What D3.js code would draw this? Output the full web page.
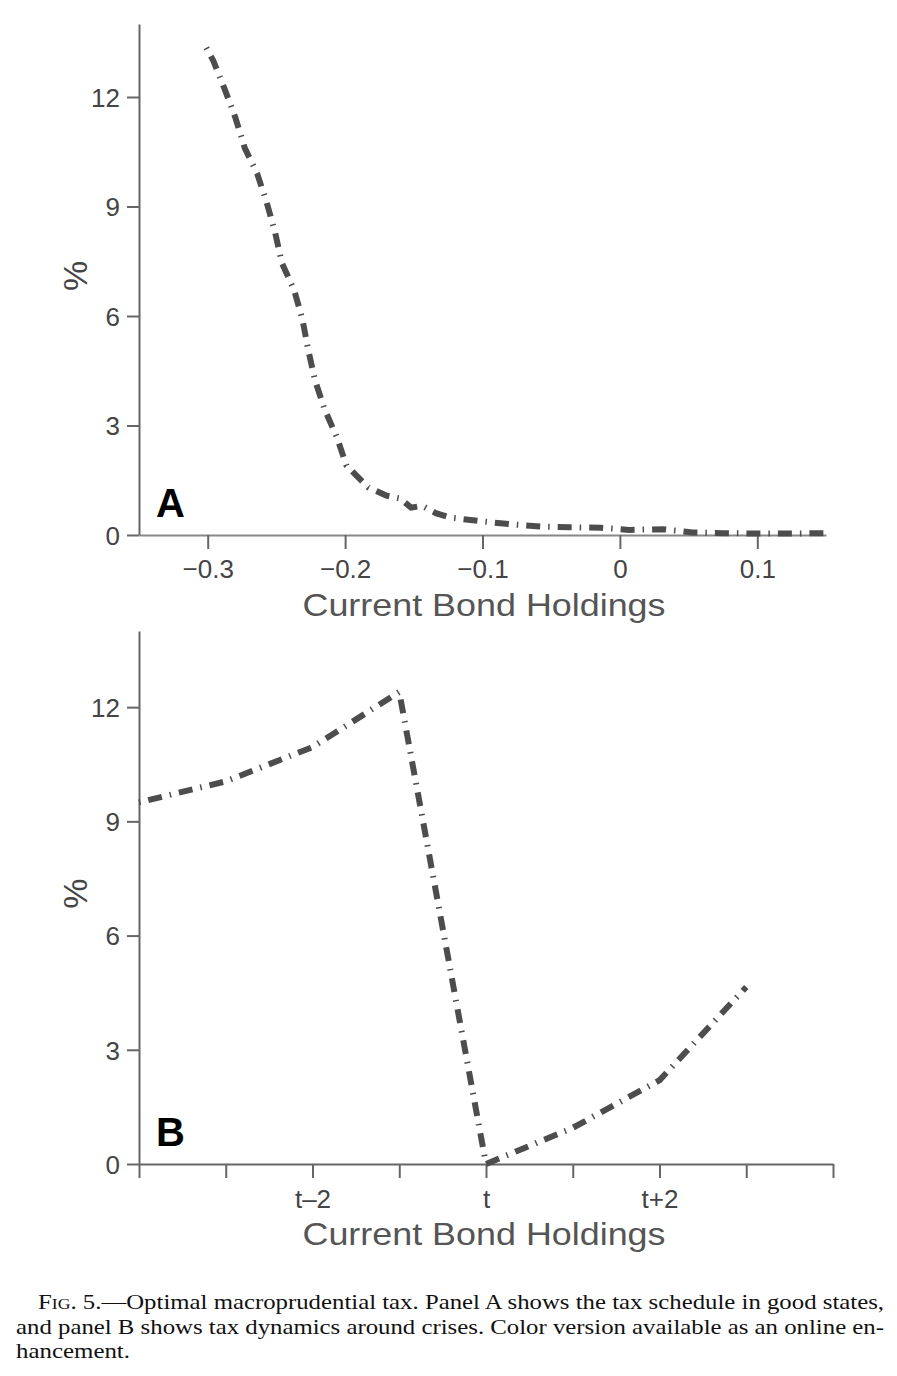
<!DOCTYPE html>
<html lang="en">
<head>
<meta charset="utf-8">
<title>Optimal macroprudential tax</title>
<script src="https://cdn.jsdelivr.net/npm/d3@7"></script>
<style>
  body { margin: 0; background: #fff; }
  svg { display: block; }
  .axis path, .axis line { stroke: #666; stroke-width: 2px; }
  .axis text { fill: #444; font-family: "Liberation Sans", Arial, sans-serif; font-size: 26px; }
</style>
</head>
<body>
<svg id="chart" width="897" height="1376"></svg>
<script>
// panel A: tax schedule vs current bond holdings (good states)
const bondsA = [-0.301, -0.296, -0.288, -0.280, -0.273, -0.264, -0.257, -0.251, -0.246, -0.237,
                -0.231, -0.227, -0.222, -0.215, -0.206, -0.199, -0.183, -0.170, -0.160, -0.152,
                -0.144, -0.134, -0.124, -0.102, -0.081, -0.058, -0.036, -0.014, 0.007, 0.031,
                0.053, 0.075, 0.096, 0.120, 0.150];
const taxA = [13.35, 13.0, 12.25, 11.45, 10.6, 9.9, 9.1, 8.3, 7.45, 6.7,
              5.9, 5.1, 4.25, 3.45, 2.68, 1.9, 1.3, 1.08, 1.0, 0.75,
              0.8, 0.6, 0.48, 0.38, 0.3, 0.23, 0.21, 0.2, 0.14, 0.16,
              0.07, 0.05, 0.04, 0.04, 0.05];
const xTicksA = [-0.3, -0.2, -0.1, 0, 0.1];

// panel B: tax dynamics around crises (t = crisis)
const periodsB = [-4, -3, -2, -1, 0, 1, 2, 3];
const taxB = [9.5, 10.05, 10.95, 12.4, 0, 0.95, 2.2, 4.65];
const xTicksB = [-4, -3, -2, -1, 0, 1, 2, 3, 4];
const xLabelsB = { "-2": "t\u20132", "0": "t", "2": "t+2" };

const yTicks = [0, 3, 6, 9, 12];
const xTitle = "Current Bond Holdings";
const caption = [
  "5.\u2014Optimal macroprudential tax. Panel A shows the tax schedule in good states,",
  "and panel B shows tax dynamics around crises. Color version available as an online en-",
  "hancement."
];

const svg = d3.select("#chart");
const lineColor = "#4d4d4d";

function panel(opts) {
  const x = d3.scaleLinear().domain(opts.xDomain).range(opts.xRange);
  const y = d3.scaleLinear().domain([0, 14]).range(opts.yRange);
  const g = svg.append("g");

  g.append("g")
    .attr("class", "axis")
    .attr("transform", `translate(${opts.xRange[0]},0)`)
    .call(d3.axisLeft(y).tickValues(yTicks).tickSize(12).tickSizeOuter(0).tickPadding(7))
    .selectAll("text").attr("dy", "0.36em");

  const xa = g.append("g")
    .attr("class", "axis")
    .attr("transform", `translate(0,${opts.yRange[0]})`)
    .call(d3.axisBottom(x).tickValues(opts.xTicks).tickSize(14).tickSizeOuter(0)
      .tickPadding(opts.tickPad).tickFormat(opts.fmt));
  if (opts.axisGrey) xa.select(".domain").style("stroke", opts.axisGrey);

  // y label
  g.append("text")
    .attr("transform", `translate(${opts.xRange[0] - 52},${y(7.1)}) rotate(-90)`)
    .attr("text-anchor", "middle")
    .style("font-family", "Liberation Sans, Arial, sans-serif")
    .style("font-size", "34px")
    .style("fill", "#444")
    .text("%");

  // x title
  g.append("text")
    .attr("x", 484)
    .attr("y", opts.yRange[0] + 81)
    .attr("text-anchor", "middle")
    .attr("textLength", 363)
    .attr("lengthAdjust", "spacingAndGlyphs")
    .style("font-family", "Liberation Sans, Arial, sans-serif")
    .style("font-size", "32px")
    .style("fill", "#555")
    .text(xTitle);

  // panel letter
  g.append("text")
    .attr("x", 156)
    .attr("y", opts.yRange[0] - 18)
    .style("font-family", "Liberation Sans, Arial, sans-serif")
    .style("font-weight", "bold")
    .style("font-size", "40px")
    .style("fill", "#000")
    .text(opts.letter);

  const line = d3.line().x(d => x(d[0])).y(d => y(d[1]));
  g.append("path")
    .datum(d3.zip(opts.xs, opts.ys))
    .attr("d", line)
    .style("fill", "none")
    .style("stroke", lineColor)
    .style("stroke-width", 6)
    .style("stroke-linecap", "butt")
    .style("stroke-dasharray", "1.5,8,14,8");
}

panel({
  letter: "A",
  xDomain: [-0.35, 0.15], xRange: [139, 826],
  yRange: [535, 24],
  xTicks: xTicksA, fmt: d3.format(".1~f"), tickPad: 11,
  axisGrey: "#888",
  xs: bondsA, ys: taxA
});

panel({
  letter: "B",
  xDomain: [-4, 4], xRange: [139, 833],
  yRange: [1164, 631],
  xTicks: xTicksB, fmt: d => xLabelsB[d] || "", tickPad: 12,
  xs: periodsB, ys: taxB
});

// caption
const cap = svg.append("g")
  .style("font-family", "Liberation Serif, Times New Roman, serif")
  .style("font-size", "21px")
  .style("fill", "#111");

const l1 = cap.append("text").attr("x", 38).attr("y", 1309)
  .attr("textLength", 846).attr("lengthAdjust", "spacingAndGlyphs");
l1.append("tspan").text("F");
l1.append("tspan").style("font-size", "15px").text("IG");
l1.append("tspan").text(". " + caption[0]);

cap.append("text").attr("x", 16).attr("y", 1334)
  .attr("textLength", 868).attr("lengthAdjust", "spacingAndGlyphs")
  .text(caption[1]);
cap.append("text").attr("x", 16).attr("y", 1358)
  .attr("textLength", 114).attr("lengthAdjust", "spacingAndGlyphs")
  .text(caption[2]);
</script>
</body>
</html>
